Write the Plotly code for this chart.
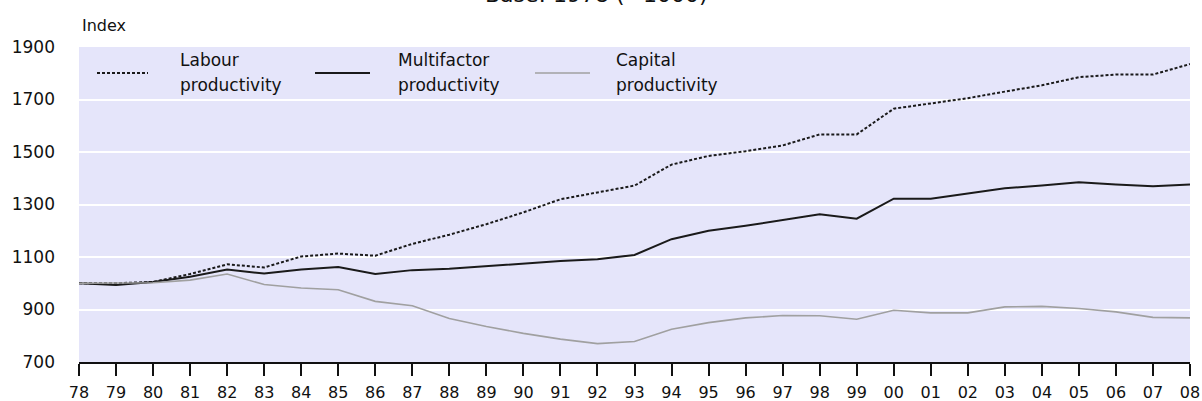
import plotly.graph_objects as go

years = ["78", "79", "80", "81", "82", "83", "84", "85", "86", "87", "88", "89", "90",
         "91", "92", "93", "94", "95", "96", "97", "98", "99", "00", "01", "02", "03",
         "04", "05", "06", "07", "08"]

labour = [1000, 1000, 1005, 1035, 1072, 1060, 1102, 1113, 1105, 1150, 1185, 1225, 1270,
          1320, 1346, 1372, 1452, 1485, 1503, 1525, 1567, 1567, 1665, 1684, 1705, 1730,
          1754, 1785, 1795, 1795, 1835]

multifactor = [1000, 993, 1005, 1025, 1052, 1037, 1052, 1062, 1035, 1050, 1055, 1065, 1076,
               1085, 1091, 1108, 1168, 1200, 1219, 1240, 1263, 1246, 1322, 1322, 1341, 1362,
               1372, 1385, 1376, 1370, 1376]

capital = [1000, 1000, 1002, 1012, 1035, 995, 982, 975, 931, 914, 866, 835, 809,
           787, 770, 778, 825, 850, 868, 877, 876, 863, 897, 887, 887, 910,
           912, 904, 891, 870, 868]

y_ticks = [700, 900, 1100, 1300, 1500, 1700, 1900]

series_names = ["Labour productivity", "Multifactor productivity", "Capital productivity"]
legend_lines = [("Labour", "productivity"), ("Multifactor", "productivity"), ("Capital", "productivity")]

FONT = "DejaVu Sans, Liberation Sans, Arial, sans-serif"
W, H = 1202, 401
ML, MR, MT, MB = 79, 12, 47, 39
PW = W - ML - MR
PH = H - MT - MB

xs = list(range(len(years)))

styles = [
    dict(color="#1a1a1a", width=2, dash="3px,2px"),
    dict(color="#1a1a1a", width=2),
    dict(color="#a0a0a0", width=1.6),
]

fig = go.Figure()
for name, vals, st in zip(series_names, [labour, multifactor, capital], styles):
    fig.add_trace(go.Scatter(x=xs, y=vals, mode="lines", name=name, line=st,
                             showlegend=False))

def px_x(p):
    return (p - ML) / PW

def px_y(p):
    return (H - MB - p) / PH

# manual legend (keys + two-line labels)
sample_x = [(97, 148), (315, 370), (535, 590)]
text_x = [178, 396, 614]
shapes = []
annotations = []
for (x0, x1), tx, st, (l1, l2) in zip(sample_x, text_x, styles, legend_lines):
    shapes.append(dict(type="line", xref="paper", yref="paper",
                       x0=px_x(x0), x1=px_x(x1), y0=px_y(73), y1=px_y(73),
                       line=st))
    annotations.append(dict(text=l1, xref="paper", yref="paper", x=px_x(tx), y=px_y(60),
                            xanchor="left", yanchor="middle", showarrow=False,
                            font=dict(family=FONT, size=17, color="#111")))
    annotations.append(dict(text=l2, xref="paper", yref="paper", x=px_x(tx), y=px_y(85),
                            xanchor="left", yanchor="middle", showarrow=False,
                            font=dict(family=FONT, size=17, color="#111")))

annotations.append(dict(text="Index", xref="paper", yref="paper", x=px_x(80), y=px_y(25),
                        xanchor="left", yanchor="middle", showarrow=False,
                        font=dict(family=FONT, size=16, color="#111")))
annotations.append(dict(text="Base: 1978 (=1000)", xref="paper", yref="paper",
                        x=px_x(596), y=px_y(-5), xanchor="center", yanchor="middle",
                        showarrow=False,
                        font=dict(family=FONT, size=22, color="#111")))

fig.update_layout(
    width=W, height=H,
    margin=dict(l=ML, r=MR, t=MT, b=MB, pad=0, autoexpand=False),
    paper_bgcolor="white",
    plot_bgcolor="#E5E5FA",
    showlegend=False,
    shapes=shapes,
    annotations=annotations,
    font=dict(family=FONT, size=16, color="#111"),
)
fig.update_xaxes(
    range=[0, 30], tickmode="array", tickvals=xs, ticktext=years,
    showgrid=False, zeroline=False,
    showline=True, linecolor="#111", linewidth=1.5,
    ticks="outside", ticklen=12, tickwidth=1.5, tickcolor="#111",
    ticklabelstandoff=3,
    tickfont=dict(family=FONT, size=16, color="#111"),
    fixedrange=True, automargin=False,
)
fig.update_yaxes(
    range=[700, 1900], tickmode="array", tickvals=y_ticks,
    showgrid=True, gridcolor="white", gridwidth=1.5,
    zeroline=False, showline=False, ticks="",
    ticklabelstandoff=23,
    tickfont=dict(family=FONT, size=17, color="#111"),
    fixedrange=True, automargin=False,
)

fig.write_html(
    "out.html",
    config={"displayModeBar": False},
    post_script="document.body.style.margin='0';document.body.style.overflow='hidden';",
)
